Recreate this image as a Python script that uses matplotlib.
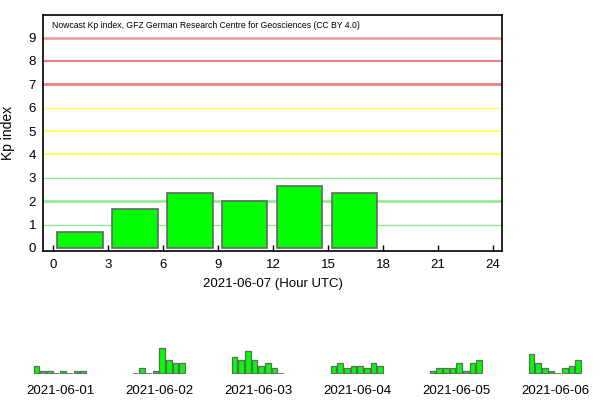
import matplotlib.pyplot as plt
import numpy as np

plt.rcParams['font.family'] = ['Liberation Sans', 'DejaVu Sans']

# main day, 3-hourly Kp (nowcast)
day = "2021-06-07"
start_hours = [0, 3, 6, 9, 12, 15]
kp_values = [0.667, 1.667, 2.333, 2.0, 2.667, 2.333]

# previous days (small thumbnails)
prev_days = ["2021-06-01", "2021-06-02", "2021-06-03",
             "2021-06-04", "2021-06-05", "2021-06-06"]
prev_kp = [
    [1.0, 0.333, 0.333, 0.0, 0.333, 0.0, 0.333, 0.333],
    [0.0, 0.667, 0.0, 0.333, 3.0, 1.667, 1.333, 1.333],
    [2.0, 1.667, 2.667, 1.667, 1.0, 1.333, 0.667, 0.0],
    [1.0, 1.333, 0.667, 1.0, 1.0, 0.667, 1.333, 1.0],
    [0.333, 0.667, 0.667, 0.667, 1.333, 0.333, 1.333, 1.667],
    [2.333, 1.333, 0.667, 0.333, 0.0, 0.667, 1.0, 1.667],
]

bar_green = "#00ff00"
bar_edge = "#666666"

fig = plt.figure(figsize=(6, 4.2), dpi=100)
ax = fig.add_axes([0.0717, 0.4024, 0.765, 0.5612])

# coloured Kp levels
levels = {1: ("#90ee90", 1.0), 2: ("#90ee90", 2.0), 3: ("#90ee90", 1.0),
          4: ("#ffff66", 1.5), 5: ("#ffff66", 1.5), 6: ("#ffff66", 1.0),
          7: ("#f08080", 2.0), 8: ("#f08080", 1.5), 9: ("#f4a0a0", 2.0)}
for lev, (c, lw) in levels.items():
    ax.axhline(lev, color=c, lw=lw, zorder=1)

ax.bar(np.array(start_hours) + 0.2, kp_values, width=2.5, align='edge',
       color=bar_green, edgecolor=bar_edge, linewidth=1.2, zorder=3)

ax.set_xlim(-0.55, 24.5)
ax.set_ylim(-0.13, 9.95)
ax.set_xticks(range(0, 25, 3))
ax.set_yticks(range(0, 10))
ax.tick_params(axis='x', direction='in', length=4, width=1, labelsize=9.5, pad=6)
ax.tick_params(axis='y', length=0, labelsize=9.5, pad=5)
for sp in ax.spines.values():
    sp.set_linewidth(1.2)
ax.set_ylabel("Kp index", fontsize=10, labelpad=10)
ax.set_xlabel(day + " (Hour UTC)", fontsize=9.5, labelpad=5)
ax.text(0.02, 0.955, "Nowcast Kp index, GFZ German Research Centre for Geosciences (CC BY 4.0)",
        transform=ax.transAxes, fontsize=6.25, va='center', ha='left')

# thumbnails for the previous days
for i, (d, vals) in enumerate(zip(prev_days, prev_kp)):
    left = (33.3 + 99 * i) / 600
    sax = fig.add_axes([left, 0.109, 53.3 / 600, 0.082])
    x = np.arange(8)
    sax.bar(x, vals, width=0.85, color=bar_green,
            edgecolor=bar_edge, linewidth=0.9)
    # zero-height slots still show a dark base line
    sax.hlines([0] * 8, x - 0.425, x + 0.425, color=bar_edge, lw=1.2)
    sax.set_xlim(-0.5, 7.5)
    sax.set_ylim(0, 4)
    sax.axis('off')
    sax.text(0.5, -0.3, d, transform=sax.transAxes, ha='center', va='top',
             fontsize=9.5)

fig.savefig("out.png", dpi=100)
